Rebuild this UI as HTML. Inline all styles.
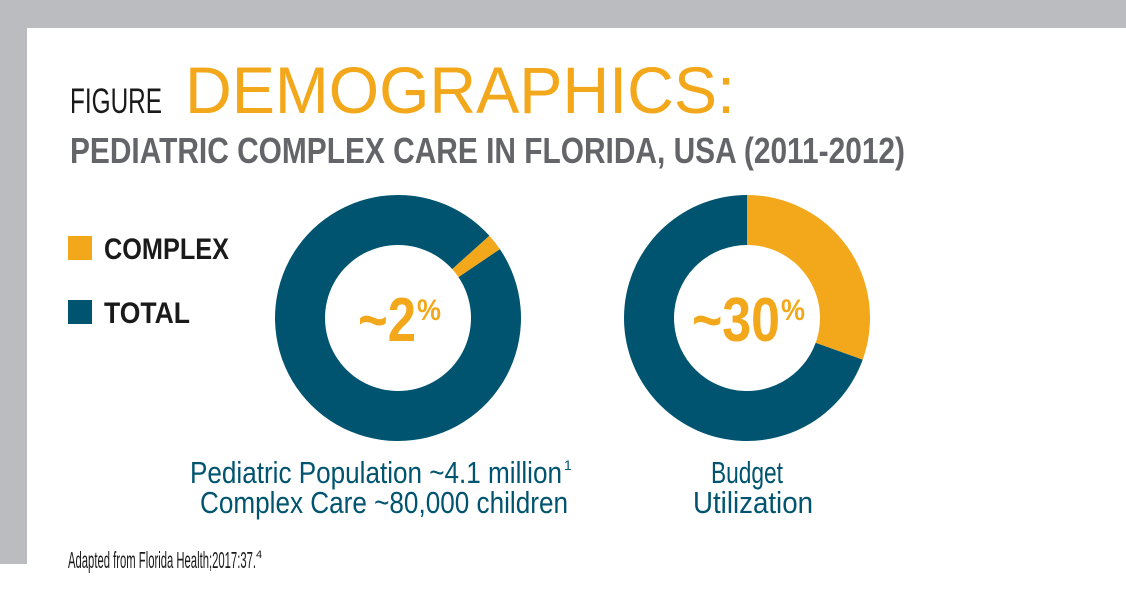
<!DOCTYPE html>
<html><head><meta charset="utf-8"><style>
html,body{margin:0;padding:0;background:#fff}
svg{display:block}
</style></head><body>
<svg width="1126" height="589" viewBox="0 0 1126 589" xmlns="http://www.w3.org/2000/svg" font-family="'Liberation Sans', sans-serif">
<rect x="0" y="0" width="1126" height="28" fill="#BBBCC0"/>
<rect x="0" y="0" width="27" height="564" fill="#BBBCC0"/>
<text x="70" y="113" font-size="35" fill="#1a1a1a" textLength="92" lengthAdjust="spacingAndGlyphs">FIGURE</text>
<text x="185" y="113" font-size="66" fill="#F3A81C" textLength="550" lengthAdjust="spacingAndGlyphs">DEMOGRAPHICS:</text>
<text x="70" y="163" font-size="36" font-weight="bold" fill="#646569" textLength="835" lengthAdjust="spacingAndGlyphs">PEDIATRIC COMPLEX CARE IN FLORIDA, USA (2011-2012)</text>
<g>
<rect x="68" y="236" width="24" height="24" fill="#F3A81C"/>
<text x="104" y="259" font-size="30" font-weight="bold" fill="#1a1a1a" textLength="125" lengthAdjust="spacingAndGlyphs">COMPLEX</text>
<rect x="68" y="300" width="24" height="24" fill="#00546F"/>
<text x="104" y="323" font-size="30" font-weight="bold" fill="#1a1a1a" textLength="86" lengthAdjust="spacingAndGlyphs">TOTAL</text>
</g>
<g id="charts"></g>
<text x="358" y="341" font-size="62" font-weight="bold" fill="#F3A81C" textLength="58" lengthAdjust="spacingAndGlyphs">~2</text>
<text x="417" y="320" font-size="30" font-weight="bold" fill="#F3A81C" textLength="24" lengthAdjust="spacingAndGlyphs">%</text>
<text x="692" y="341" font-size="62" font-weight="bold" fill="#F3A81C" textLength="88" lengthAdjust="spacingAndGlyphs">~30</text>
<text x="781" y="320" font-size="30" font-weight="bold" fill="#F3A81C" textLength="24" lengthAdjust="spacingAndGlyphs">%</text>
<text x="190" y="483" font-size="31" fill="#00546F" textLength="372" lengthAdjust="spacingAndGlyphs">Pediatric Population ~4.1 million</text>
<text x="564" y="470" font-size="14" fill="#00546F">1</text>
<text x="200" y="513" font-size="31" fill="#00546F" textLength="368" lengthAdjust="spacingAndGlyphs">Complex Care ~80,000 children</text>
<text x="711" y="483" font-size="31" fill="#00546F" textLength="72" lengthAdjust="spacingAndGlyphs">Budget</text>
<text x="693" y="513" font-size="31" fill="#00546F" textLength="120" lengthAdjust="spacingAndGlyphs">Utilization</text>
<text x="68" y="568" font-size="23" fill="#1a1a1a" textLength="188" lengthAdjust="spacingAndGlyphs">Adapted from Florida Health;2017:37.</text>
<text x="256" y="558" font-size="11" fill="#1a1a1a">4</text>
</svg>
<script>
const chartNames = ['population', 'budget'];
const complexShare = [2.2, 30.5];
const startAngles = [48, 0];
const centersX = [398, 747];
const cy = 318, rOut = 123, rIn = 73;
const g = document.getElementById('charts');
const NS = 'http://www.w3.org/2000/svg';
function pt(cx, r, deg){const a=(deg-90)*Math.PI/180;return [cx+r*Math.cos(a), cy+r*Math.sin(a)];}
function arc(cx, a0, a1){
  const large = (a1-a0)>180?1:0;
  const p1=pt(cx,rOut,a0),p2=pt(cx,rOut,a1),p3=pt(cx,rIn,a1),p4=pt(cx,rIn,a0);
  return `M${p1[0]},${p1[1]} A${rOut},${rOut} 0 ${large} 1 ${p2[0]},${p2[1]} L${p3[0]},${p3[1]} A${rIn},${rIn} 0 ${large} 0 ${p4[0]},${p4[1]} Z`;
}
chartNames.forEach((n,i)=>{
  const cx=centersX[i], s=startAngles[i], sweep=complexShare[i]*3.6;
  const t=document.createElementNS(NS,'path');
  t.setAttribute('d',arc(cx,s+sweep,s+360));
  t.setAttribute('fill','#00546F');
  
  
  g.appendChild(t);
  const c=document.createElementNS(NS,'path');
  c.setAttribute('d',arc(cx,s,s+sweep));
  c.setAttribute('fill','#F3A81C');
  
  
  g.appendChild(c);
});
</script>
</body></html>
